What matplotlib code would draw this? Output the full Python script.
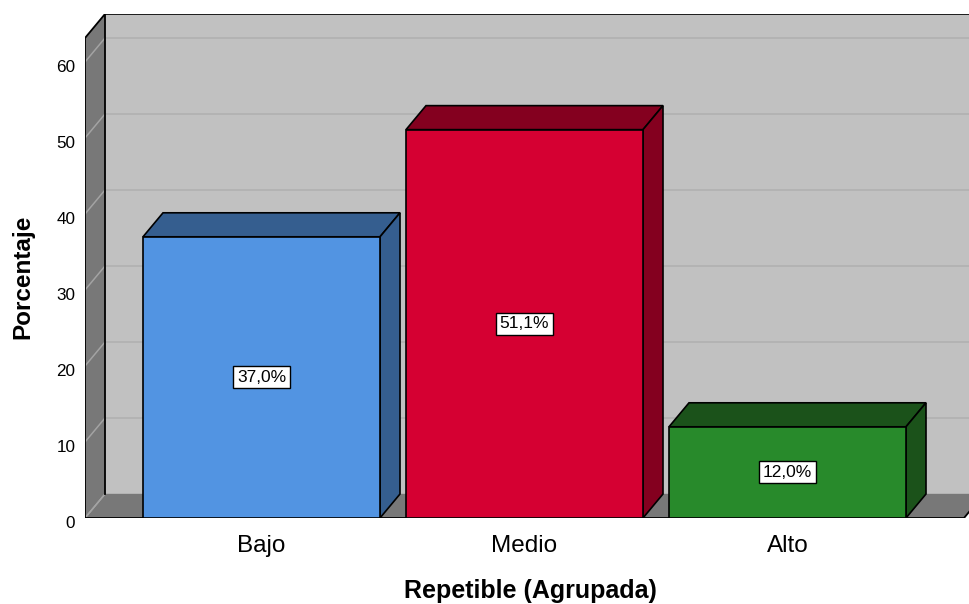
import matplotlib.pyplot as plt
from matplotlib.patches import Polygon
import matplotlib.transforms as mtransforms
import matplotlib as mpl

mpl.use('Agg')
plt.rcParams['font.family'] = ['Liberation Sans', 'DejaVu Sans']

# data
categories = ['Bajo', 'Medio', 'Alto']
percentages = [37.0, 51.1, 12.0]
value_labels = ['37,0%', '51,1%', '12,0%']
yticks = [0, 10, 20, 30, 40, 50, 60]

front_colors = ['#5294E2', '#D50032', '#288A2B']
dark_colors = ['#355E8F', '#84001F', '#1B521A']

W, H = 970, 604
fig = plt.figure(figsize=(W / 100, H / 100), dpi=100)

# plot box in pixels: front-left corner of the floor at (85, 518)
left_px, bottom_px, right_px, top_px = 85, 518, 970, 14
ax = fig.add_axes([left_px / W, (H - bottom_px) / H,
                   (right_px - left_px) / W, (bottom_px - top_px) / H])

px_per_y = 7.6          # pixels per percent
px_per_x = 263.0        # pixels per category step
x_first = 261.5         # pixel centre of the first bar

xmin = (left_px - x_first) / px_per_x
xmax = (right_px - x_first) / px_per_x
ymax = (bottom_px - top_px) / px_per_y
ax.set_xlim(xmin, xmax)
ax.set_ylim(0, ymax)

# depth offset of the pseudo-3D look
ddx = 20 / px_per_x
ddy = 24 / px_per_y
wall_top = (bottom_px - 38) / px_per_y
floor_right = (964 - x_first) / px_per_x

wall_dark = '#787878'
wall_back = '#C1C1C1'
grid_back = '#AFAFAF'
grid_side = '#A3A3A3'

# back wall
ax.add_patch(Polygon([(xmin + ddx, ddy), (xmax + 1, ddy), (xmax + 1, wall_top + ddy),
                      (xmin + ddx, wall_top + ddy)],
                     closed=True, fc=wall_back, ec='none', zorder=1))
for v in yticks:
    ax.plot([xmin + ddx, xmax + 1], [v + ddy, v + ddy], color=grid_back, lw=1.1, zorder=2)
ax.plot([xmin + ddx, xmax + 1], [wall_top + ddy, wall_top + ddy], color='black', lw=1.2, zorder=2)

# left wall
ax.add_patch(Polygon([(xmin, 0), (xmin + ddx, ddy), (xmin + ddx, wall_top + ddy),
                      (xmin, wall_top)],
                     closed=True, fc=wall_dark, ec='none', zorder=3))
for v in yticks:
    ax.plot([xmin, xmin + ddx], [v, v + ddy], color=grid_side, lw=1.1, zorder=4)
ax.plot([xmin, xmin, xmin + ddx, xmin + ddx], [0, wall_top, wall_top + ddy, ddy],
        color='black', lw=1.3, zorder=5)

# floor
ax.add_patch(Polygon([(xmin, 0), (floor_right, 0), (floor_right + ddx, ddy), (xmin + ddx, ddy)],
                     closed=True, fc=wall_dark, ec='none', zorder=3))
ax.plot([xmin, floor_right, floor_right + ddx], [0, 0, ddy], color='black', lw=1.3, zorder=5)
ax.plot([xmin, xmin + ddx], [0, ddy], color=grid_side, lw=1.1, zorder=4)

# bars
bar_w = 237 / px_per_x
xs = list(range(len(categories)))
bars = ax.bar(xs, percentages, width=bar_w, color=front_colors, edgecolor='black',
              linewidth=1.2, zorder=7)
for x, v, dc in zip(xs, percentages, dark_colors):
    x0, x1 = x - bar_w / 2, x + bar_w / 2
    ax.add_patch(Polygon([(x0, v), (x1, v), (x1 + ddx, v + ddy), (x0 + ddx, v + ddy)],
                         closed=True, fc=dc, ec='black', lw=1.2, zorder=6))
    ax.add_patch(Polygon([(x1, 0), (x1 + ddx, ddy), (x1 + ddx, v + ddy), (x1, v)],
                         closed=True, fc=dc, ec='black', lw=1.2, zorder=6))

for x, v, lab in zip(xs, percentages, value_labels):
    ax.text(x, v / 2, lab, ha='center', va='center', fontsize=12.5, zorder=9,
            bbox=dict(boxstyle='square,pad=0.2', fc='white', ec='black', lw=1))

for s in ax.spines.values():
    s.set_visible(False)
ax.set_xticks(xs)
ax.set_xticklabels(categories, fontsize=17.5)
ax.set_yticks(yticks)
ax.set_yticklabels([str(t) for t in yticks], fontsize=12.3)
ax.tick_params(axis='both', length=0)
ax.tick_params(axis='x', pad=12.5)
ax.tick_params(axis='y', pad=7)

# tick numbers sit a little below their gridline
shift = mtransforms.ScaledTranslation(0, -3 / 72, fig.dpi_scale_trans)
for lab in ax.get_yticklabels():
    lab.set_transform(lab.get_transform() + shift)

fig.text(23 / W, 1 - 277 / H, 'Porcentaje', rotation=90, ha='center', va='center',
         fontsize=17.5, fontweight='bold')
fig.text(530 / W, 1 - 591 / H, 'Repetible (Agrupada)', ha='center', va='center',
         fontsize=18, fontweight='bold')

fig.savefig('out.png', dpi=100)
